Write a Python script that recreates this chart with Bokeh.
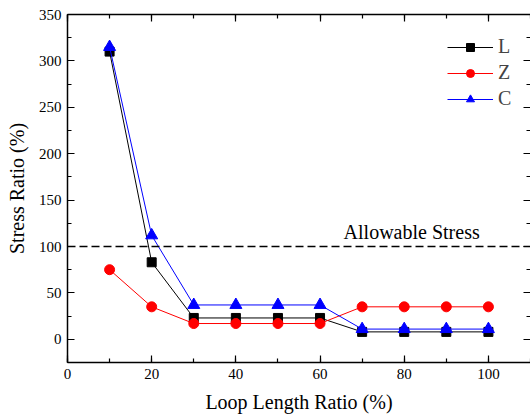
from bokeh.plotting import figure
from bokeh.models import Span, LinearAxis, Legend, LegendItem, Range1d, FixedTicker, CustomLabelingPolicy
from bokeh.embed import file_html
from bokeh.resources import INLINE
from bokeh.core.properties import value

x_vals = [10, 20, 30, 40, 50, 60, 70, 80, 90, 100]
L_vals = [310, 83, 23, 23, 23, 23, 8, 8, 8, 8]
Z_vals = [75, 35, 17, 17, 17, 17, 35, 35, 35, 35]
C_vals = [315, 112, 37, 37, 37, 37, 11, 11, 11, 11]
allow_level = 100
x_ticks = [0, 20, 40, 60, 80, 100]
y_ticks = [0, 50, 100, 150, 200, 250, 300, 350]

FONT = "Liberation Serif"

p = figure(width=530, height=418, output_backend="svg", toolbar_location=None,
           x_range=Range1d(0, 110), y_range=Range1d(-25, 350),
           min_border_left=67, min_border_right=0, min_border_top=14, min_border_bottom=56)
p.grid.visible = False
p.outline_line_color = None
p.background_fill_color = "white"
p.border_fill_color = "white"

hide_labels = CustomLabelingPolicy(code="""
    for (const i of indices) { indices.unset(i) }
    return indices
""")

def style_axis(ax, labels=True):
    ax.axis_line_width = 1.5
    ax.axis_line_color = "black"
    ax.major_tick_in = 7
    ax.major_tick_out = 0
    ax.minor_tick_in = 4
    ax.minor_tick_out = 0
    ax.major_tick_line_width = 1.2
    ax.minor_tick_line_width = 1.2
    if labels:
        ax.major_label_text_font = FONT
        ax.major_label_text_font_size = "15px"
        ax.major_label_text_color = "black"
        ax.major_label_standoff = 6
    else:
        ax.major_label_policy = hide_labels
        ax.major_label_text_font_size = "0px"
        ax.major_label_standoff = 0
        ax.axis_label_standoff = 0

p.xaxis.ticker = FixedTicker(ticks=x_ticks, minor_ticks=list(range(0, 111, 10)))
p.yaxis.ticker = FixedTicker(ticks=y_ticks, minor_ticks=list(range(-25, 351, 25)))
style_axis(p.xaxis[0])
style_axis(p.yaxis[0])
p.xaxis.axis_label = "Loop Length Ratio (%)"
p.yaxis.axis_label = "Stress Ratio (%)"
for ax in (p.xaxis[0], p.yaxis[0]):
    ax.axis_label_text_font = FONT
    ax.axis_label_text_font_size = "20px"
    ax.axis_label_text_font_style = "normal"
    ax.axis_label_text_color = "black"
p.xaxis.axis_label_standoff = 9
p.yaxis.axis_label_standoff = 8

top = LinearAxis(ticker=FixedTicker(ticks=x_ticks, minor_ticks=list(range(0, 111, 10))))
style_axis(top, labels=False)
p.add_layout(top, "above")
right = LinearAxis(ticker=FixedTicker(ticks=y_ticks, minor_ticks=list(range(-25, 351, 25))))
style_axis(right, labels=False)
right.axis_line_alpha = 0
p.add_layout(right, "right")

p.add_layout(Span(location=allow_level, dimension="width", line_color="black",
                  line_dash="8 4", line_width=1.5))
p.text(x=[65.6], y=[116], text=["Allowable Stress"], text_font=value(FONT),
       text_font_size="20px", text_color="black", text_baseline="alphabetic",
       text_align="left")

lL = p.line(x_vals, L_vals, line_color="black", line_width=1)
sL = p.scatter(x_vals, L_vals, marker="square", size=9, fill_color="black", line_color="black")
lZ = p.line(x_vals, Z_vals, line_color="#ff0000", line_width=1)
sZ = p.scatter(x_vals, Z_vals, marker="circle", size=10, fill_color="#ff0000", line_color="#ff0000")
lC = p.line(x_vals, C_vals, line_color="#0000ff", line_width=1)
sC = p.scatter(x_vals, C_vals, marker="triangle", size=12, fill_color="#0000ff", line_color="#0000ff")

legend = Legend(items=[LegendItem(label="L", renderers=[lL, sL]),
                       LegendItem(label="Z", renderers=[lZ, sZ]),
                       LegendItem(label="C", renderers=[lC, sC])],
                location=(380, 252), border_line_color=None, background_fill_alpha=0,
                padding=0, margin=0, spacing=3, glyph_width=46, glyph_height=20,
                label_height=20, label_standoff=5, label_text_font=FONT,
                label_text_font_size="20px", label_text_baseline="middle")
p.add_layout(legend, "center")

open("out.html", "w").write(file_html(p, INLINE))
